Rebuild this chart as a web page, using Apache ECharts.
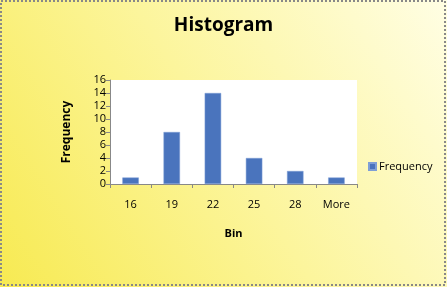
<!DOCTYPE html>
<html>
<head>
<meta charset="utf-8">
<script src="https://cdn.jsdelivr.net/npm/echarts@6/dist/echarts.min.js"></script>
<style>
  html, body { margin: 0; padding: 0; }
  #chart { width: 447px; height: 287px; }
</style>
</head>
<body>
<div id="chart"></div>
<script>
// histogram bins and counts
var bins = ['16', '19', '22', '25', '28', 'More'];
var frequency = [1, 8, 14, 4, 2, 1];

var myChart = echarts.init(document.getElementById('chart'));

var option = {
  backgroundColor: new echarts.graphic.LinearGradient(1, 0, 0, 1, [
    { offset: 0, color: '#fffee4' },
    { offset: 0.5, color: '#fcf59c' },
    { offset: 1, color: '#f7ea52' }
  ]),
  title: {
    text: 'Histogram',
    left: 'center',
    top: 11,
    textStyle: { fontFamily: 'Open Sans', fontSize: 19, fontWeight: 'bold', color: '#000' }
  },
  legend: {
    data: ['Frequency'],
    orient: 'vertical',
    left: 363,
    top: 156,
    icon: 'rect',
    itemWidth: 7,
    itemHeight: 7,
    itemGap: 4,
    textStyle: { fontFamily: 'Open Sans', fontSize: 11, color: '#000', padding: [0, 0, 0, -2] }
  },
  grid: {
    left: 110,
    right: 90,
    top: 80,
    bottom: 103,
    show: true,
    backgroundColor: '#fff',
    borderWidth: 0
  },
  xAxis: {
    type: 'category',
    data: bins,
    name: 'Bin',
    nameLocation: 'middle',
    nameGap: 44,
    nameTextStyle: { fontFamily: 'Open Sans', fontSize: 11, fontWeight: 'bold', color: '#000' },
    axisLine: { lineStyle: { color: '#888' } },
    axisTick: { show: true, length: 4, lineStyle: { color: '#888' } },
    axisLabel: { margin: 15, fontFamily: 'Open Sans', fontSize: 11, color: '#000' }
  },
  yAxis: {
    type: 'value',
    min: 0,
    max: 16,
    interval: 2,
    name: 'Frequency',
    nameLocation: 'middle',
    nameRotate: 90,
    nameGap: 37,
    nameTextStyle: { fontFamily: 'Open Sans', fontSize: 12, fontWeight: 'bold', color: '#000' },
    axisLine: { show: true, lineStyle: { color: '#888' } },
    axisTick: { show: true, length: 4, lineStyle: { color: '#888' } },
    splitLine: { show: false },
    axisLabel: { margin: 4, fontFamily: 'Open Sans', fontSize: 11, color: '#000' }
  },
  series: [
    {
      name: 'Frequency',
      type: 'bar',
      data: frequency,
      barWidth: '40%',
      itemStyle: { color: '#4a74bd', borderColor: '#7f9fd6', borderWidth: 0.5 }
    }
  ],
  graphic: [
    {
      type: 'rect',
      shape: { x: 1, y: 1, width: 444, height: 284 },
      style: { fill: null, stroke: '#888', lineWidth: 2, lineDash: [2, 2] },
      silent: true
    }
  ]
};

myChart.setOption(option);
window.onresize = function () {
  myChart.resize();
};
</script>
</body>
</html>
